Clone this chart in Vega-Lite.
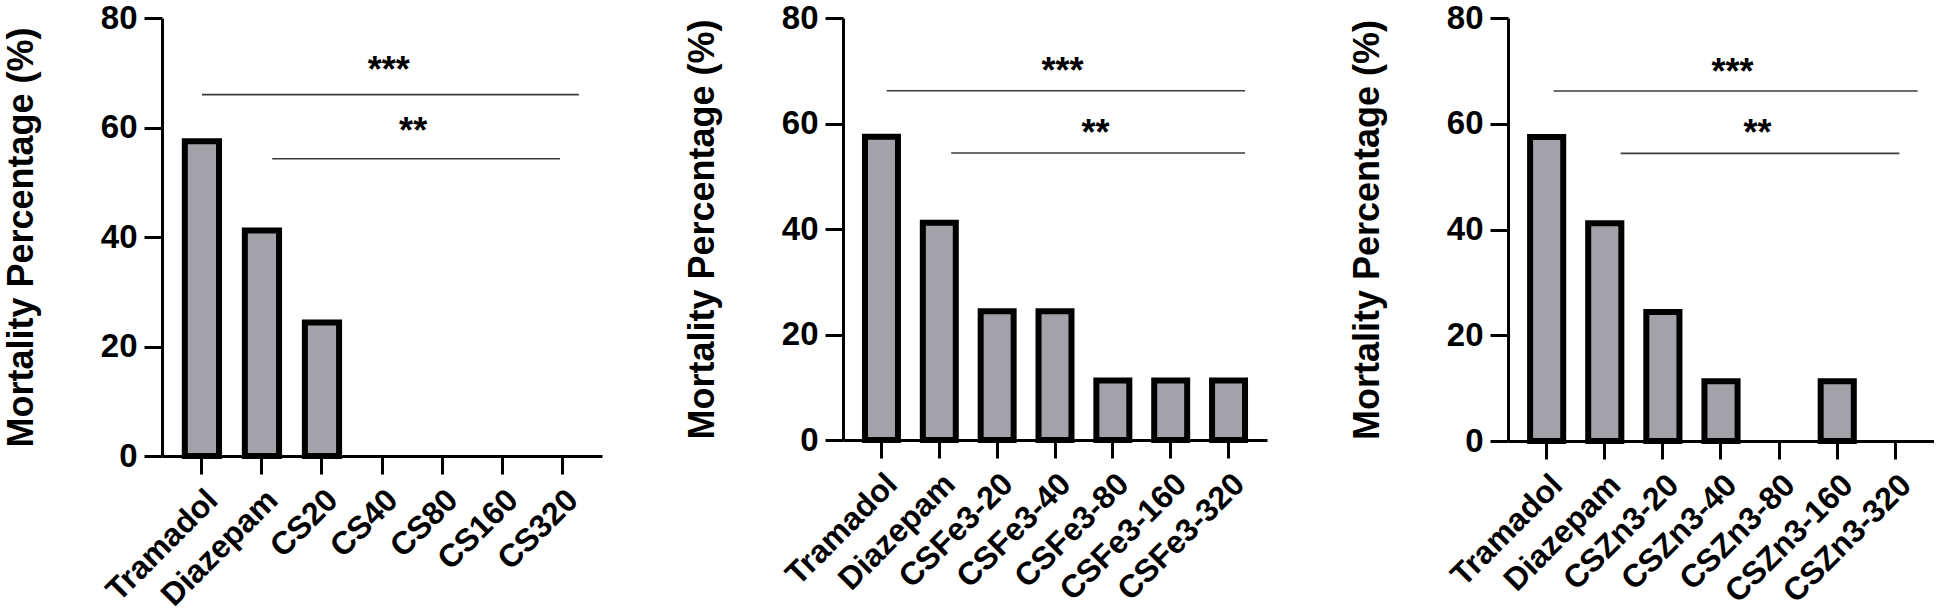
{
  "$schema": "https://vega.github.io/schema/vega-lite/v6.json",
  "background": "white",
  "padding": {"left": 3, "top": 2, "right": 0, "bottom": 0},
  "autosize": {"type": "pad"},
  "spacing": 82,
  "config": {
    "font": "Liberation Sans",
    "view": {"stroke": null},
    "axis": {
      "grid": false,
      "domainColor": "black", "domainWidth": 3,
      "tickColor": "black", "tickWidth": 3, "tickSize": 18,
      "labelFont": "Liberation Sans", "labelFontWeight": "bold", "labelFontSize": 32, "labelColor": "black",
      "titleFont": "Liberation Sans", "titleFontWeight": "bold", "titleFontSize": 36, "titleColor": "black"
    },
    "axisX": {"labelAngle": -45, "labelPadding": 10, "labelDy": 9, "title": null},
    "axisY": {"labelPadding": 7, "titlePadding": 60, "labelFontSize": 33}
  },
  "hconcat": [
    {
      "width": 440, "height": 438,
      "layer": [
        {
          "data": {"values": [
            {"group": "Tramadol", "value": 57.5},
            {"group": "Diazepam", "value": 41.2},
            {"group": "CS20", "value": 24.4},
            {"group": "CS40", "value": 0},
            {"group": "CS80", "value": 0},
            {"group": "CS160", "value": 0},
            {"group": "CS320", "value": 0}
          ]},
          "mark": {"type": "bar", "fill": "#a3a2a8", "stroke": "black", "strokeWidth": 6},
          "encoding": {
            "x": {"field": "group", "type": "nominal", "sort": null,
              "scale": {"domain": ["Tramadol", "Diazepam", "CS20", "CS40", "CS80", "CS160", "CS320"], "paddingInner": 0.43, "paddingOuter": 0.38}},
            "y": {"field": "value", "type": "quantitative", "scale": {"domain": [0, 80], "nice": false}, "title": "Mortality Percentage (%)", "axis": {"values": [0, 20, 40, 60, 80]}},
            "strokeOpacity": {"condition": {"test": "datum.value == 0", "value": 0}, "value": 1}
          }
        },
        {
          "data": {"values": [{"from": "Tramadol", "to": "CS320", "y": 66.0}]},
          "mark": {"type": "rule", "stroke": "#3a3a3a", "strokeWidth": 1.6},
          "encoding": {
            "x": {"field": "from", "type": "nominal", "bandPosition": 0.5},
            "x2": {"field": "to", "bandPosition": 0.99},
            "y": {"field": "y", "type": "quantitative"}
          }
        },
        {
          "data": {"values": [{"from": "Diazepam", "to": "CS320", "y": 54.3}]},
          "mark": {"type": "rule", "stroke": "#3a3a3a", "strokeWidth": 1.6},
          "encoding": {
            "x": {"field": "from", "type": "nominal", "bandPosition": 0.8},
            "x2": {"field": "to", "bandPosition": 0.44},
            "y": {"field": "y", "type": "quantitative"}
          }
        },
        {
          "data": {"values": [{"pos": "CS40", "y": 68.4, "label": "***"}]},
          "mark": {"type": "text", "font": "Liberation Sans", "fontSize": 36, "fontWeight": "bold", "baseline": "alphabetic", "color": "black"},
          "encoding": {
            "x": {"field": "pos", "type": "nominal", "bandPosition": 0.7},
            "y": {"field": "y", "type": "quantitative"},
            "text": {"field": "label"}
          }
        },
        {
          "data": {"values": [{"pos": "CS40", "y": 57.1, "label": "**"}]},
          "mark": {"type": "text", "font": "Liberation Sans", "fontSize": 36, "fontWeight": "bold", "baseline": "alphabetic", "color": "black"},
          "encoding": {
            "x": {"field": "pos", "type": "nominal", "bandPosition": 1.41},
            "y": {"field": "y", "type": "quantitative"},
            "text": {"field": "label"}
          }
        }
      ]
    },
    {
      "width": 424, "height": 422,
      "layer": [
        {
          "data": {"values": [
            {"group": "Tramadol", "value": 57.5},
            {"group": "Diazepam", "value": 41.2},
            {"group": "CSFe3-20", "value": 24.4},
            {"group": "CSFe3-40", "value": 24.4},
            {"group": "CSFe3-80", "value": 11.3},
            {"group": "CSFe3-160", "value": 11.3},
            {"group": "CSFe3-320", "value": 11.3}
          ]},
          "mark": {"type": "bar", "fill": "#a3a2a8", "stroke": "black", "strokeWidth": 6},
          "encoding": {
            "x": {"field": "group", "type": "nominal", "sort": null,
              "scale": {"domain": ["Tramadol", "Diazepam", "CSFe3-20", "CSFe3-40", "CSFe3-80", "CSFe3-160", "CSFe3-320"], "paddingInner": 0.43, "paddingOuter": 0.38}},
            "y": {"field": "value", "type": "quantitative", "scale": {"domain": [0, 80], "nice": false}, "title": "Mortality Percentage (%)", "axis": {"values": [0, 20, 40, 60, 80]}},
            "strokeOpacity": {"condition": {"test": "datum.value == 0", "value": 0}, "value": 1}
          }
        },
        {
          "data": {"values": [{"from": "Tramadol", "to": "CSFe3-320", "y": 66.2}]},
          "mark": {"type": "rule", "stroke": "#3a3a3a", "strokeWidth": 1.6},
          "encoding": {
            "x": {"field": "from", "type": "nominal", "bandPosition": 0.66},
            "x2": {"field": "to", "bandPosition": 1.0},
            "y": {"field": "y", "type": "quantitative"}
          }
        },
        {
          "data": {"values": [{"from": "Diazepam", "to": "CSFe3-320", "y": 54.4}]},
          "mark": {"type": "rule", "stroke": "#3a3a3a", "strokeWidth": 1.6},
          "encoding": {
            "x": {"field": "from", "type": "nominal", "bandPosition": 0.86},
            "x2": {"field": "to", "bandPosition": 1.0},
            "y": {"field": "y", "type": "quantitative"}
          }
        },
        {
          "data": {"values": [{"pos": "CSFe3-40", "y": 67.6, "label": "***"}]},
          "mark": {"type": "text", "font": "Liberation Sans", "fontSize": 36, "fontWeight": "bold", "baseline": "alphabetic", "color": "black"},
          "encoding": {
            "x": {"field": "pos", "type": "nominal", "bandPosition": 0.73},
            "y": {"field": "y", "type": "quantitative"},
            "text": {"field": "label"}
          }
        },
        {
          "data": {"values": [{"pos": "CSFe3-40", "y": 55.9, "label": "**"}]},
          "mark": {"type": "text", "font": "Liberation Sans", "fontSize": 36, "fontWeight": "bold", "baseline": "alphabetic", "color": "black"},
          "encoding": {
            "x": {"field": "pos", "type": "nominal", "bandPosition": 1.73},
            "y": {"field": "y", "type": "quantitative"},
            "text": {"field": "label"}
          }
        }
      ]
    },
    {
      "width": 426, "height": 423,
      "layer": [
        {
          "data": {"values": [
            {"group": "Tramadol", "value": 57.5},
            {"group": "Diazepam", "value": 41.2},
            {"group": "CSZn3-20", "value": 24.4},
            {"group": "CSZn3-40", "value": 11.3},
            {"group": "CSZn3-80", "value": 0},
            {"group": "CSZn3-160", "value": 11.3},
            {"group": "CSZn3-320", "value": 0}
          ]},
          "mark": {"type": "bar", "fill": "#a3a2a8", "stroke": "black", "strokeWidth": 6},
          "encoding": {
            "x": {"field": "group", "type": "nominal", "sort": null,
              "scale": {"domain": ["Tramadol", "Diazepam", "CSZn3-20", "CSZn3-40", "CSZn3-80", "CSZn3-160", "CSZn3-320"], "paddingInner": 0.43, "paddingOuter": 0.38}},
            "y": {"field": "value", "type": "quantitative", "scale": {"domain": [0, 80], "nice": false}, "title": "Mortality Percentage (%)", "axis": {"values": [0, 20, 40, 60, 80]}},
            "strokeOpacity": {"condition": {"test": "datum.value == 0", "value": 0}, "value": 1}
          }
        },
        {
          "data": {"values": [{"from": "Tramadol", "to": "CSZn3-320", "y": 66.2}]},
          "mark": {"type": "rule", "stroke": "#3a3a3a", "strokeWidth": 1.6},
          "encoding": {
            "x": {"field": "from", "type": "nominal", "bandPosition": 0.71},
            "x2": {"field": "to", "bandPosition": 1.17},
            "y": {"field": "y", "type": "quantitative"}
          }
        },
        {
          "data": {"values": [{"from": "Diazepam", "to": "CSZn3-320", "y": 54.4}]},
          "mark": {"type": "rule", "stroke": "#3a3a3a", "strokeWidth": 1.6},
          "encoding": {
            "x": {"field": "from", "type": "nominal", "bandPosition": 0.98},
            "x2": {"field": "to", "bandPosition": 0.62},
            "y": {"field": "y", "type": "quantitative"}
          }
        },
        {
          "data": {"values": [{"pos": "CSZn3-40", "y": 67.6, "label": "***"}]},
          "mark": {"type": "text", "font": "Liberation Sans", "fontSize": 36, "fontWeight": "bold", "baseline": "alphabetic", "color": "black"},
          "encoding": {
            "x": {"field": "pos", "type": "nominal", "bandPosition": 0.85},
            "y": {"field": "y", "type": "quantitative"},
            "text": {"field": "label"}
          }
        },
        {
          "data": {"values": [{"pos": "CSZn3-40", "y": 55.9, "label": "**"}]},
          "mark": {"type": "text", "font": "Liberation Sans", "fontSize": 36, "fontWeight": "bold", "baseline": "alphabetic", "color": "black"},
          "encoding": {
            "x": {"field": "pos", "type": "nominal", "bandPosition": 1.6},
            "y": {"field": "y", "type": "quantitative"},
            "text": {"field": "label"}
          }
        }
      ]
    }
  ]
}
